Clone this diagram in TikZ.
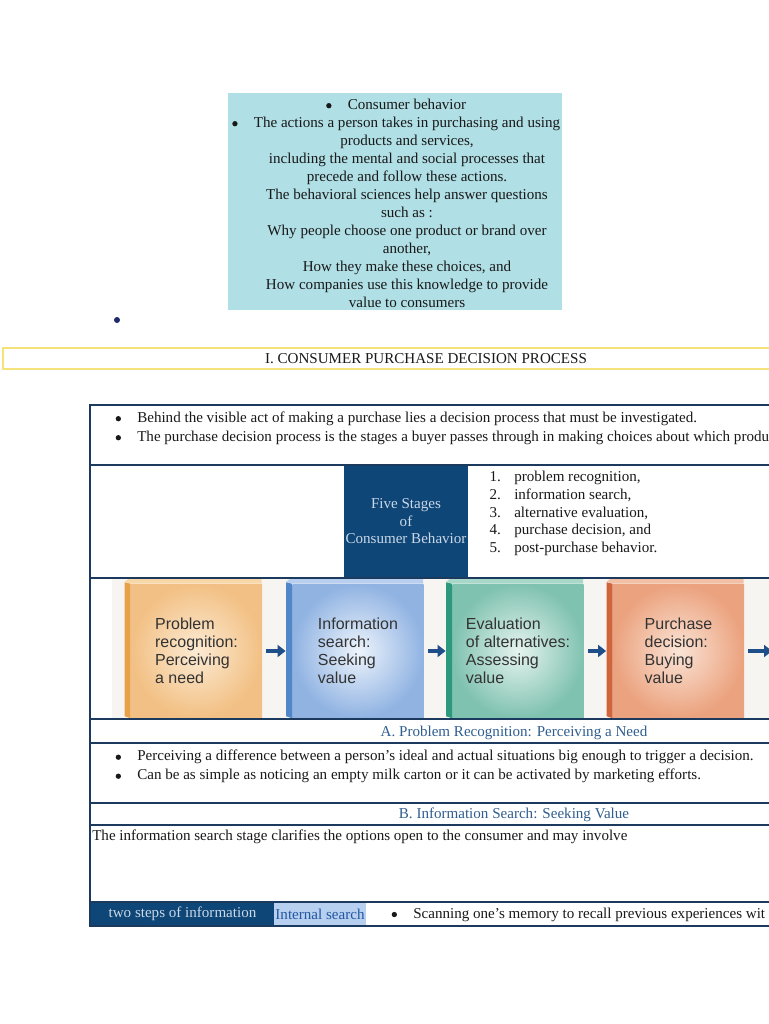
\documentclass[tikz,border=0pt]{standalone}
\usepackage{fontspec}
\setmainfont{Liberation Serif}
\newfontfamily\stagefont{Liberation Sans}
\usetikzlibrary{arrows.meta}
\definecolor{tablenavy}{HTML}{1B3A5E}
\definecolor{cellnavy}{HTML}{0E4677}
\definecolor{celltext}{HTML}{CAD8E8}
\definecolor{subhead}{HTML}{2F5E8E}
\definecolor{introcyan}{HTML}{B0DFE5}
\definecolor{titleyellow}{HTML}{F6E27A}
\definecolor{searchblue}{HTML}{B7D0F0}
\definecolor{searchtext}{HTML}{2457A0}
\definecolor{flowblue}{HTML}{1F4F88}
\definecolor{photobg}{HTML}{F6F5F1}
\definecolor{straydot}{HTML}{1F2A6B}
\definecolor{recogin}{HTML}{FCEBD4}\definecolor{recogout}{HTML}{F2C084}
\definecolor{recogside}{HTML}{E8A148}\definecolor{recogtop}{HTML}{F8D7A8}
\definecolor{searchin}{HTML}{EEF4FC}\definecolor{searchout}{HTML}{90B3E2}
\definecolor{searchside}{HTML}{4F87C8}\definecolor{searchtop}{HTML}{B8CFF0}
\definecolor{evalin}{HTML}{E6F4EF}\definecolor{evalout}{HTML}{80C2B0}
\definecolor{evalside}{HTML}{2C987C}\definecolor{evaltop}{HTML}{A8D8CA}
\definecolor{buyin}{HTML}{FAE4D6}\definecolor{buyout}{HTML}{EBA27E}
\definecolor{buyside}{HTML}{D0643A}\definecolor{buytop}{HTML}{F2C0A4}
\newcommand{\itembul}{\llap{\tikz[baseline=-2.6pt]\fill[black!90] (0pt,0pt) circle (2pt);\hspace{12.2pt}}}
\newcommand{\itemnum}[1]{\llap{#1.\hspace{10pt}}}
\tikzset{body/.style={inner sep=0pt,font=\fontsize{11.3}{13.5}\selectfont,text=black!90},
  line/.style={body,anchor=base west},
  list/.style={body,anchor=west,align=left},
  sub/.style={body,anchor=base,text=subhead},
  cell/.style={body,fill=cellnavy,text=celltext,align=center},
  stagebox/.style={minimum width=98.25pt,minimum height=100.5pt,inner sep=0pt,align=left,
    font=\stagefont\fontsize{12}{13.5}\selectfont,text=black!80},
  flow/.style={-{Triangle[length=6pt,width=9pt]},line width=2.8pt,draw=flowblue,
    shorten <=3pt,shorten >=5pt},
  rule/.style={draw=tablenavy,line width=1.4pt}}

\begin{document}
\begin{tikzpicture}[x=0.75pt,y=-0.75pt]
\useasboundingbox (0,0) rectangle (768,1024);
\fill[introcyan] (228,93) rectangle (562,310);
\node[body,align=center] (intro) at (407,203) {\itembul Consumer behavior\\
  \itembul The actions a person takes in purchasing and using\\products and services,\\
  including the mental and social processes that\\precede and follow these actions.\\
  The behavioral sciences help answer questions\\such as :\\
  Why people choose one product or brand over\\another,\\
  How they make these choices, and\\
  How companies use this knowledge to provide\\value to consumers};
\node[circle,fill=straydot,inner sep=0pt,minimum size=4.5pt] (dot) at (117,320) {};
\draw[titleyellow,line width=1.5pt] (3,348) rectangle (776,369);
\node[body,anchor=base] (title) at (426,363) {I. CONSUMER PURCHASE DECISION PROCESS};
\fill[photobg] (112,579) rectangle (776,718);
\node[list,align=left,font=\fontsize{11.3}{14.25}\selectfont] (intro2) at (137,428)
  {\itembul Behind the visible act of making a purchase lies a decision process that must be investigated.\\
   \itembul The purchase decision process is the stages a buyer passes through in making choices about which produ};
\node[cell,minimum width=93pt,minimum height=83.25pt,font=\fontsize{11.3}{13.1}\selectfont] (stages) at (406,521.5)
  {Five Stages\\of\\Consumer Behavior};
\node[list,font=\fontsize{11.3}{13.3}\selectfont] (steps) at (514,513.5)
  {\itemnum{1}problem recognition,\\\itemnum{2}information search,\\\itemnum{3}alternative evaluation,\\
   \itemnum{4}purchase decision, and\\\itemnum{5}post-purchase behavior.};
\node[stagebox,inner color=recogin,outer color=recogout] (recog) at (196.5,651) {Problem\\recognition:\\Perceiving\\a need};
\node[stagebox,inner color=searchin,outer color=searchout] (search) at (358,651) {Information\\search:\\Seeking\\value};
\node[stagebox,inner color=evalin,outer color=evalout] (eval) at (518,651) {Evaluation\\of alternatives:\\Assessing\\value};
\node[stagebox,inner color=buyin,outer color=buyout] (buy) at (678.5,651) {Purchase\\decision:\\Buying\\value};
\coordinate (next) at (772,651);
\fill[recogside] (recog.north west) -- (recog.south west) -- ++(-6,-2) -- ++(0,-134) -- cycle;
\fill[recogtop] (recog.north west) -- ++(-6,-2) -- ++(4,-3) -- ++(133,0) -- ++(0,5) -- cycle;
\fill[searchside] (search.north west) -- (search.south west) -- ++(-6,-2) -- ++(0,-134) -- cycle;
\fill[searchtop] (search.north west) -- ++(-6,-2) -- ++(4,-3) -- ++(133,0) -- ++(0,5) -- cycle;
\fill[evalside] (eval.north west) -- (eval.south west) -- ++(-6,-2) -- ++(0,-134) -- cycle;
\fill[evaltop] (eval.north west) -- ++(-6,-2) -- ++(4,-3) -- ++(133,0) -- ++(0,5) -- cycle;
\fill[buyside] (buy.north west) -- (buy.south west) -- ++(-6,-2) -- ++(0,-134) -- cycle;
\fill[buytop] (buy.north west) -- ++(-6,-2) -- ++(4,-3) -- ++(133,0) -- ++(0,5) -- cycle;
\draw[flow] (recog) -- (search);
\draw[flow] (search) -- (eval);
\draw[flow] (eval) -- (buy);
\draw[flow,shorten >=0pt] (buy) -- (next);
\node[sub] (needhead) at (514,736.5) {A. Problem Recognition: Perceiving a Need};
\node[list,font=\fontsize{11.3}{14.25}\selectfont] (need) at (137,766.5)
  {\itembul Perceiving a difference between a person's ideal and actual situations big enough to trigger a decision.\\
   \itembul Can be as simple as noticing an empty milk carton or it can be activated by marketing efforts.};
\node[sub] (valuehead) at (514,818.5) {B. Information Search: Seeking Value};
\node[line] (involve) at (92,840.5) {The information search stage clarifies the options open to the consumer and may involve};
\node[cell,minimum width=137.25pt,minimum height=16.5pt] (twosteps) at (182.5,914) {two steps of information};
\node[body,fill=searchblue,text=searchtext,minimum width=69pt,minimum height=16.5pt] (internal) at (320,914) {Internal search};
\node[line] (memory) at (413,918) {\itembul Scanning one’s memory to recall previous experiences wit};
\draw[rule] (90,405) rectangle (776,926);
\draw[rule] (90,465) -- (776,465);
\draw[rule] (90,578) -- (776,578);
\draw[rule] (90,719) -- (776,719);
\draw[rule] (90,743) -- (776,743);
\draw[rule] (90,803) -- (776,803);
\draw[rule] (90,825) -- (776,825);
\draw[rule] (90,902) -- (776,902);
\end{tikzpicture}
\end{document}
